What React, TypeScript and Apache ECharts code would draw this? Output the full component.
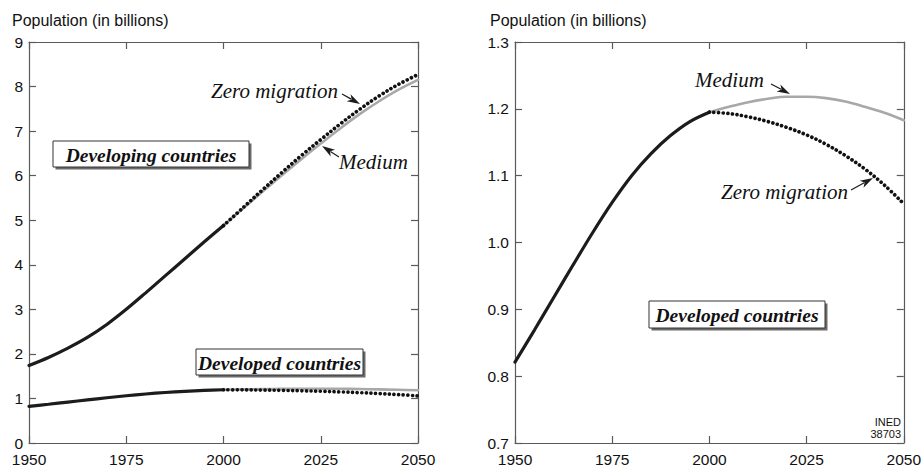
import React, { useEffect, useRef } from "react";
import * as echarts from "echarts";

// ---------- data ----------
const histYears = [1950, 1955, 1960, 1965, 1970, 1975, 1980, 1985, 1990, 1995, 2000];
const projYears = [2000, 2005, 2010, 2015, 2020, 2025, 2030, 2035, 2040, 2045, 2050];

const developingHist = [1.74, 1.92, 2.13, 2.37, 2.66, 3.0, 3.37, 3.75, 4.13, 4.51, 4.88];
const developingMedium = [4.88, 5.26, 5.64, 6.01, 6.37, 6.72, 7.06, 7.38, 7.67, 7.93, 8.15];
const developingZero = [4.88, 5.28, 5.68, 6.07, 6.45, 6.81, 7.16, 7.49, 7.79, 8.05, 8.27];

const developedHist = [0.821, 0.869, 0.918, 0.967, 1.015, 1.06, 1.1, 1.133, 1.16, 1.181, 1.195];
const developedMedium = [1.195, 1.203, 1.21, 1.215, 1.218, 1.218, 1.216, 1.211, 1.203, 1.194, 1.183];
const developedZero = [1.195, 1.193, 1.188, 1.181, 1.172, 1.161, 1.147, 1.13, 1.11, 1.086, 1.058];

const xTicks = [1950, 1975, 2000, 2025, 2050];

// ---------- styles ----------
const BLACK = "#1c1c1c";
const GRAY = "#a8a8a8";
const AXIS = "#5a5a5a";
const SANS = '"Liberation Sans", Arial, Helvetica, sans-serif';
const SERIF = '"Liberation Serif", "Times New Roman", serif';

const pairs = (xs: number[], ys: number[]) => xs.map((x, i) => [x, ys[i]]);

function solid(data: number[][], xi: number, color: string, width: number) {
  return {
    type: "line",
    xAxisIndex: xi,
    yAxisIndex: xi,
    data,
    smooth: 0.35,
    showSymbol: false,
    silent: true,
    lineStyle: { color, width, cap: "round" },
  };
}
function dotted(data: number[][], xi: number) {
  return {
    type: "line",
    xAxisIndex: xi,
    yAxisIndex: xi,
    data,
    smooth: 0.35,
    showSymbol: false,
    silent: true,
    z: 5,
    lineStyle: { color: "#111", width: 3.7, type: [0.01, 4.6], cap: "round" },
  };
}

function xAxes(grid: number) {
  const base = {
    gridIndex: grid,
    type: "value",
    min: 1950,
    max: 2050,
    interval: 25,
    splitLine: { show: false },
    axisLine: { show: true, onZero: false, lineStyle: { color: AXIS, width: 1.2 } },
    axisTick: { show: true, inside: true, length: 7, lineStyle: { color: AXIS, width: 1.2 } },
  };
  return [
    {
      ...base,
      position: "bottom",
      axisLabel: {
        color: "#111",
        fontSize: 15.5,
        fontFamily: SANS,
        margin: 8,
        formatter: (v: number) => (xTicks.includes(v) ? String(v) : ""),
      },
    },
    { ...base, position: "top", axisLabel: { show: false } },
  ];
}

function yAxes(grid: number, min: number, max: number, interval: number, dec: number) {
  const base = {
    gridIndex: grid,
    type: "value",
    min,
    max,
    interval,
    splitLine: { show: false },
    axisLine: { show: true, onZero: false, lineStyle: { color: AXIS, width: 1.2 } },
    axisTick: { show: true, inside: true, length: 7, lineStyle: { color: AXIS, width: 1.2 } },
  };
  return [
    {
      ...base,
      position: "left",
      axisLabel: {
        color: "#111",
        fontSize: 15.5,
        fontFamily: SANS,
        margin: 6,
        formatter: (v: number) => v.toFixed(dec),
      },
    },
    { ...base, position: "right", axisLabel: { show: false } },
  ];
}

function arrow(x1: number, y1: number, x2: number, y2: number) {
  const dx = x2 - x1;
  const dy = y2 - y1;
  const len = Math.hypot(dx, dy);
  const ux = dx / len;
  const uy = dy / len;
  const hl = 13;
  const hw = 4;
  const bx = x2 - ux * hl;
  const by = y2 - uy * hl;
  return [
    {
      type: "line",
      shape: { x1, y1, x2: bx + ux * 3, y2: by + uy * 3 },
      style: { stroke: BLACK, lineWidth: 1.2 },
      z: 100,
    },
    {
      type: "polygon",
      shape: {
        points: [
          [x2, y2],
          [bx - uy * hw, by + ux * hw],
          [bx + ux * 3.5, by + uy * 3.5],
          [bx + uy * hw, by - ux * hw],
        ],
      },
      style: { fill: BLACK },
      z: 100,
    },
  ];
}

function box(x: number, y: number, w: number, h: number, label: string) {
  return [
    { type: "rect", shape: { x: x + 2.5, y: y + 2.5, width: w, height: h }, style: { fill: "#6a6a6a" }, z: 100 },
    {
      type: "rect",
      shape: { x, y, width: w, height: h },
      style: { fill: "#fff", stroke: "#333", lineWidth: 1 },
      z: 101,
    },
    {
      type: "text",
      x: x + w / 2,
      y: y + h / 2 + 1,
      z: 102,
      style: {
        text: label,
        font: `italic bold 19.5px ${SERIF}`,
        fill: "#111",
        textAlign: "center",
        textVerticalAlign: "middle",
        align: "center",
        verticalAlign: "middle",
      },
    },
  ];
}

function itext(x: number, y: number, label: string, size = 21, family = SERIF, italic = true, align = "left") {
  return {
    type: "text",
    x,
    y,
    z: 102,
    style: {
      text: label,
      font: `${italic ? "italic " : ""}${size}px ${family}`,
      fill: "#111",
      textAlign: align,
      textVerticalAlign: "middle",
      align,
      verticalAlign: "middle",
    },
  };
}

export default function App() {
  const ref = useRef<HTMLDivElement>(null);
  useEffect(() => {
    if (!ref.current) return;
    const chart = echarts.init(ref.current, undefined, { renderer: "svg" });
    const option = {
      animation: false,
      backgroundColor: "#ffffff",
      grid: [
        { left: 29, top: 42, width: 389, height: 401, containLabel: false },
        { left: 515, top: 42, width: 390, height: 401, containLabel: false },
      ],
      xAxis: [...xAxes(0), ...xAxes(1)],
      yAxis: [...yAxes(0, 0, 9, 1, 0), ...yAxes(1, 0.7, 1.3, 0.1, 1)],
      series: [
        // left panel
        solid(pairs(projYears, developingMedium), 0, GRAY, 2.6),
        solid(pairs(projYears, developedMedium), 0, GRAY, 2.6),
        solid(pairs(histYears, developingHist), 0, BLACK, 3.2),
        solid(pairs(histYears, developedHist), 0, BLACK, 3.2),
        dotted(pairs(projYears, developingZero), 0),
        dotted(pairs(projYears, developedZero), 0),
        // right panel
        solid(pairs(projYears, developedMedium), 2, GRAY, 2.6),
        solid(pairs(histYears, developedHist), 2, BLACK, 3.2),
        dotted(pairs(projYears, developedZero), 2),
      ],
      graphic: [
        itext(12, 20, "Population (in billions)", 16, SANS, false),
        itext(490, 20, "Population (in billions)", 16, SANS, false),
        // left panel
        ...box(53, 141, 196, 26, "Developing countries"),
        ...box(196, 349, 167, 26, "Developed countries"),
        itext(338, 91, "Zero migration", 21, SERIF, true, "right"),
        ...arrow(342, 94, 360, 104),
        itext(339, 162, "Medium", 21),
        ...arrow(339, 157, 322, 146),
        // right panel
        ...box(649, 301, 176, 27, "Developed countries"),
        itext(695, 80, "Medium", 21),
        ...arrow(771, 84, 790, 94),
        itext(848, 192, "Zero migration", 21, SERIF, true, "right"),
        ...arrow(851, 190, 873, 178),
        itext(901, 422, "INED", 11, SANS, false, "right"),
        itext(901, 434, "38703", 11, SANS, false, "right"),
      ],
    };
    chart.setOption(option as any);
    return () => chart.dispose();
  }, []);
  return (
    <div
      ref={ref}
      style={{ position: "fixed", left: 0, top: 0, width: 924, height: 472, background: "#fff" }}
    />
  );
}
